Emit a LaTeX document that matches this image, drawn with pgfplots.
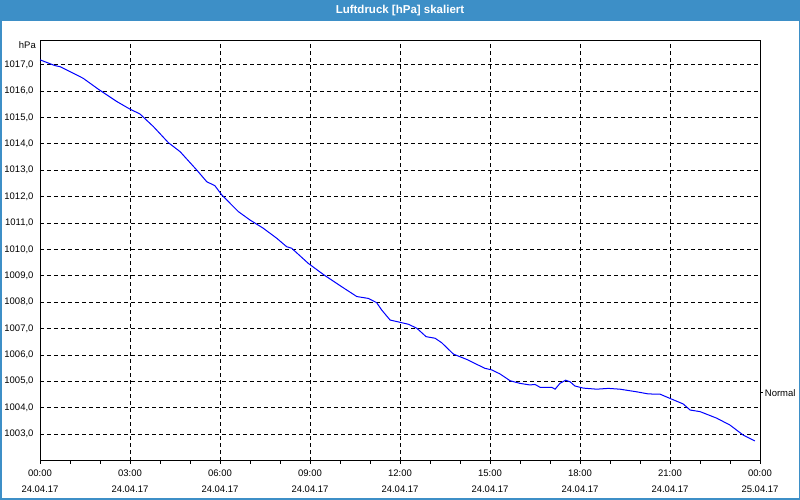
\documentclass[border=0pt]{standalone}
\usepackage{pgfplots}
\pgfplotsset{compat=1.18}
\usepackage{fontspec}
\setmainfont{Liberation Sans}
\definecolor{titleblue}{RGB}{61,143,199}
\definecolor{curveblue}{RGB}{0,0,255}
\begin{document}
\begin{tikzpicture}
\fill[white] (0pt,0pt) rectangle (800pt,500pt);
\begin{axis}[
  at={(40pt,39.3pt)}, anchor=south west,
  scale only axis, width=720pt, height=420.4pt,
  xmin=0, xmax=24, ymin=1001.99, ymax=1017.92,
  xtick={0,3,...,24},
  minor tick num=2,
  xticklabels={{00:00\\24.04.17},{03:00\\24.04.17},{06:00\\24.04.17},{09:00\\24.04.17},{12:00\\24.04.17},{15:00\\24.04.17},{18:00\\24.04.17},{21:00\\24.04.17},{00:00\\25.04.17}},
  xticklabel style={align=center, font=\fontsize{9.5}{16}\selectfont, yshift=-3pt},
  ytick={1003,1004,...,1017},
  yticklabels={{1003,0},{1004,0},{1005,0},{1006,0},{1007,0},{1008,0},{1009,0},{1010,0},{1011,0},{1012,0},{1013,0},{1014,0},{1015,0},{1016,0},{1017,0}},
  yticklabel style={font=\fontsize{9.5}{11}\selectfont, xshift=0pt},
  tick align=outside,
  major tick length=3pt, minor tick length=3pt,
  xtick pos=bottom, ytick pos=left,
  ytick style={draw=none},
  minor y tick style={draw=none},
  tick style={black, line width=0.8pt},
  grid=major,
  major grid style={black, line width=0.75pt, dash pattern=on 4pt off 3pt},
  axis line style={black, line width=0.9pt},
  clip=false,
]
\addplot[curveblue, line width=1pt] coordinates {
(0,1017.18) (0.5,1016.96) (0.667,1016.92) (1.11,1016.67) (1.44,1016.48) (1.94,1016.07)
(2.56,1015.60) (3.0,1015.31) (3.33,1015.13) (3.78,1014.65) (4.28,1014.04) (4.67,1013.70)
(5.22,1013.01) (5.56,1012.56) (5.83,1012.41) (6.06,1012.06) (6.61,1011.43) (7.0,1011.11)
(7.44,1010.80) (7.89,1010.42) (8.22,1010.10) (8.39,1010.04) (8.94,1009.47) (9.44,1009.05)
(10.06,1008.58) (10.56,1008.21) (10.94,1008.14) (11.22,1007.98) (11.39,1007.70) (11.67,1007.32)
(11.94,1007.25) (12.28,1007.16) (12.56,1007.01) (12.87,1006.69) (13.17,1006.63) (13.39,1006.46)
(13.78,1006.03) (14.22,1005.83) (14.83,1005.49) (15.06,1005.43) (15.33,1005.28) (15.67,1005.02)
(16.0,1004.92) (16.33,1004.86) (16.5,1004.88) (16.67,1004.77) (17.06,1004.77) (17.17,1004.70)
(17.33,1004.92) (17.52,1005.04) (17.67,1004.98) (17.83,1004.82) (18.11,1004.74) (18.56,1004.70)
(18.94,1004.73) (19.33,1004.70) (19.89,1004.60) (20.28,1004.52) (20.67,1004.51) (21.0,1004.35)
(21.44,1004.14) (21.67,1003.91) (22.0,1003.85) (22.56,1003.60) (23.0,1003.34) (23.44,1002.96)
(23.83,1002.74)
};
\draw[black, line width=0.8pt] (rel axis cs:1,0.1613) -- ++(3pt,0pt)
  node[right, inner sep=1.5pt, font=\fontsize{9.5}{11}\selectfont] {Normal};
\end{axis}
\node[anchor=east, inner sep=0pt, font=\fontsize{9.5}{11}\selectfont] at (36pt,455pt) {hPa};
\fill[titleblue] (0pt,479.3pt) rectangle (800pt,500pt);
\node[white, font=\fontsize{11.5}{13}\selectfont\bfseries] at (400pt,489.7pt) {Luftdruck [hPa] skaliert};
\draw[titleblue, line width=1.5pt] (0.75pt,0.75pt) rectangle (799.25pt,499.25pt);
\useasboundingbox (0pt,0pt) rectangle (800pt,500pt);
\end{tikzpicture}
\end{document}
